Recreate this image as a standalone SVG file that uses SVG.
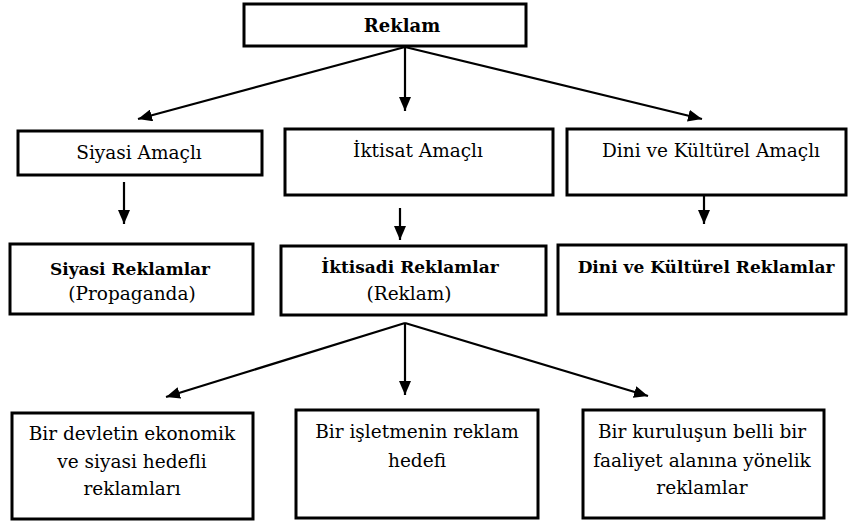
<svg xmlns="http://www.w3.org/2000/svg" width="851" height="522" viewBox="0 0 851 522">
<style>
.box{fill:#fff;stroke:#000;stroke-width:3}
text{font-family:'DejaVu Serif',serif;font-size:18.5px;fill:#000;text-anchor:middle}
.b{font-weight:bold;font-size:17px}
.c{stroke:#000;stroke-width:2.2;fill:none;marker-end:url(#ah)}
</style>
<defs>
<marker id="ah" markerUnits="userSpaceOnUse" markerWidth="14" markerHeight="12" viewBox="0 0 14 12" refX="14" refY="6" orient="auto">
<path d="M0,0 L14,6 L0,12 Z" fill="#000"/>
</marker>
</defs>
<rect width="851" height="522" fill="#fff"/>
<g id="connectors">
<line class="c" x1="405" y1="47" x2="138" y2="119"/>
<line class="c" x1="405" y1="47" x2="405" y2="111"/>
<line class="c" x1="405" y1="47" x2="702" y2="119"/>
<line class="c" x1="124" y1="182" x2="124" y2="224"/>
<line class="c" x1="400" y1="208" x2="400" y2="240"/>
<line class="c" x1="704" y1="196" x2="704" y2="224"/>
<line class="c" x1="405" y1="323" x2="166" y2="397"/>
<line class="c" x1="405" y1="323" x2="405" y2="395"/>
<line class="c" x1="405" y1="323" x2="648" y2="396"/>
</g>
<g id="reklam">
<rect class="box" x="244" y="4" width="282" height="42"/>
<text class="b" x="402" y="32" style="font-size:18px">Reklam</text>
</g>
<g id="siyasi-amacli">
<rect class="box" x="18" y="131" width="244" height="44"/>
<text x="139" y="159">Siyasi Amaçlı</text>
</g>
<g id="iktisat-amacli">
<rect class="box" x="285" y="129" width="268" height="66"/>
<text x="418" y="157">İktisat Amaçlı</text>
</g>
<g id="dini-amacli">
<rect class="box" x="567" y="129" width="279" height="66"/>
<text x="711" y="157">Dini ve Kültürel Amaçlı</text>
</g>
<g id="siyasi-reklamlar">
<rect class="box" x="10" y="244" width="243" height="70"/>
<text class="b" x="130" y="275">Siyasi Reklamlar</text>
<text x="132" y="300">(Propaganda)</text>
</g>
<g id="iktisadi-reklamlar">
<rect class="box" x="281" y="246" width="265" height="69"/>
<text class="b" x="410" y="273">İktisadi Reklamlar</text>
<text x="409" y="300">(Reklam)</text>
</g>
<g id="dini-reklamlar">
<rect class="box" x="558" y="245" width="288" height="69"/>
<text class="b" x="706" y="273">Dini ve Kültürel Reklamlar</text>
</g>
<g id="devlet">
<rect class="box" x="12" y="413" width="241" height="106"/>
<text x="132" y="440">Bir devletin ekonomik</text>
<text x="132" y="468">ve siyasi hedefli</text>
<text x="132" y="495">reklamları</text>
</g>
<g id="isletme">
<rect class="box" x="296" y="410" width="242" height="108"/>
<text x="417" y="438">Bir işletmenin reklam</text>
<text x="417" y="467">hedefi</text>
</g>
<g id="kurulus">
<rect class="box" x="583" y="410" width="241" height="108"/>
<text x="702" y="438">Bir kuruluşun belli bir</text>
<text x="702" y="467">faaliyet alanına yönelik</text>
<text x="702" y="494">reklamlar</text>
</g>
</svg>
